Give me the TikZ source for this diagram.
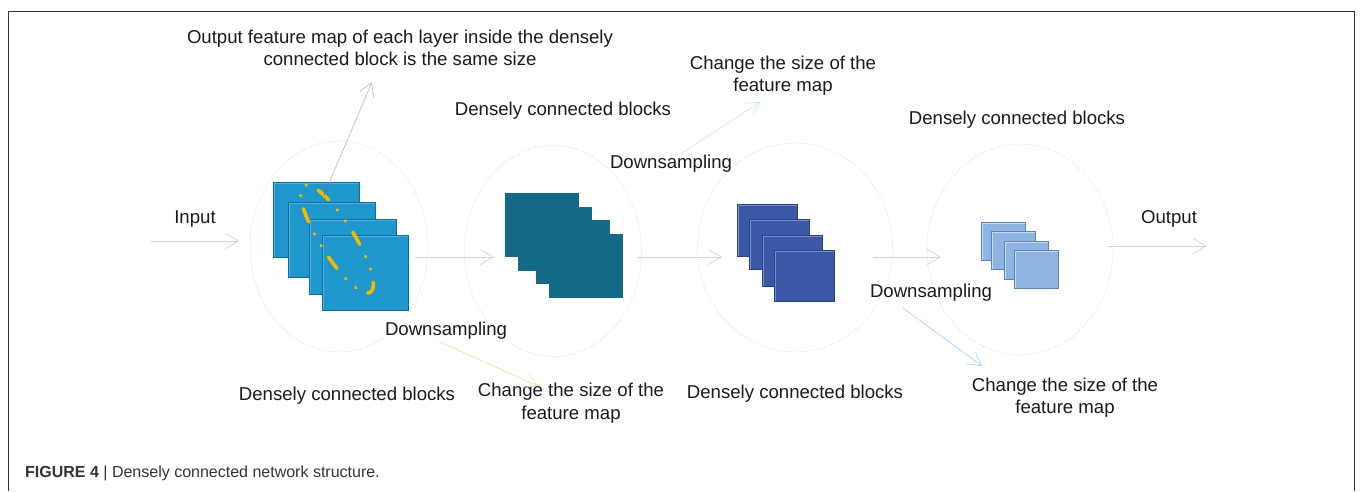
\documentclass[tikz,border=0pt]{standalone}
\usepackage{fontspec}
\setmainfont{Liberation Sans}
\usetikzlibrary{arrows.meta,shapes.geometric}
\definecolor{txt}{HTML}{1A1A1A}
\definecolor{capc}{HTML}{333333}
\definecolor{bluefill}{HTML}{1D97CC}
\definecolor{bluedark}{HTML}{16699A}
\definecolor{bluelight}{HTML}{4DB2E0}
\definecolor{tealfill}{HTML}{146B88}
\definecolor{navyfill}{HTML}{3B58A7}
\definecolor{navydark}{HTML}{2A3F80}
\definecolor{navylight}{HTML}{7A8FD0}
\definecolor{skyfill}{HTML}{8EB4E3}
\definecolor{skydark}{HTML}{5F80B0}
\definecolor{skylight}{HTML}{C9DCF3}
\definecolor{gold}{HTML}{F5B800}
\definecolor{arrgray}{HTML}{D2D2D2}
\definecolor{arrgreen}{HTML}{C9E9D6}
\definecolor{arryellow}{HTML}{F2E2A8}
\definecolor{arrblue}{HTML}{A3D4EC}
\newcommand\stackbox[6]{%
  \node[#6, anchor=north west, minimum width={(#4-#2)*1pt}, minimum height={(#5-#3)*1pt}] (#1) at (#2,#3) {};}
\newcommand\bevelhi[2]{%
  \draw[draw=#2, line width=1.4pt] ([shift={(1.6pt,1.6pt)}]#1.south west) -- ([shift={(1.6pt,-1.6pt)}]#1.north west) -- ([shift={(-1.6pt,-1.6pt)}]#1.north east);}
\begin{document}
\begin{tikzpicture}[x=1pt,y=-1pt,
  lbl/.style={text=txt, font=\fontsize{18.6}{22.5}\selectfont, align=center, inner sep=0pt},
  one/.style={lbl, text height=13.5pt, text depth=4pt},
  flow/.style={draw=arrgray, line width=0.7pt, -{Straight Barb[length=13pt,width=15pt,line width=0.7pt]}},
  halo/.style={draw=black!14, line width=0.6pt, dash pattern=on 1pt off 1.3pt, ellipse, inner sep=0pt},
  boxA/.style={rectangle, inner sep=0pt, fill=bluefill, draw=bluedark, line width=1.4pt},
  boxB/.style={rectangle, inner sep=0pt, fill=tealfill},
  boxC/.style={rectangle, inner sep=0pt, fill=navyfill, draw=navydark, line width=1.4pt},
  boxD/.style={rectangle, inner sep=0pt, fill=skyfill, draw=skydark, line width=1.2pt},
]
\useasboundingbox (0,0) rectangle (1360,491);
% frame
\draw[capc, line width=0.9pt] (8,491) -- (8,11) -- (1354,11) -- (1354,491);

% halos
\node[halo, minimum width=178pt, minimum height=211pt] (e1) at (339,246.5) {};
\node[halo, minimum width=177pt, minimum height=211pt] (e2) at (553,251) {};
\node[halo, minimum width=195pt, minimum height=209pt] (e3) at (795,247.5) {};
\node[halo, minimum width=186pt, minimum height=211pt] (e4) at (1020,249.5) {};

% stack 1
\stackbox{s1a}{273}{182}{359}{257}{boxA}\bevelhi{s1a}{bluelight}
\stackbox{s1b}{288}{202}{375}{277}{boxA}\bevelhi{s1b}{bluelight}
\stackbox{s1c}{309}{219}{396}{294}{boxA}\bevelhi{s1c}{bluelight}
\stackbox{s1d}{322}{235}{408}{310}{boxA}\bevelhi{s1d}{bluelight}
\draw[gold, line width=3.6pt, line cap=round, dash pattern=on 14pt off 13.5pt on 0.01pt off 13.5pt on 0.01pt off 13.5pt, dash phase=3pt]
  (337,239) ellipse [x radius=63pt, y radius=17pt, rotate=-58];

% stack 2
\stackbox{s2a}{505}{193}{579}{257}{boxB}
\stackbox{s2b}{518}{207}{592}{271}{boxB}
\stackbox{s2c}{536}{220}{610}{284}{boxB}
\stackbox{s2d}{549}{234}{623}{298}{boxB}

% stack 3
\stackbox{s3a}{737}{204}{797}{256}{boxC}\bevelhi{s3a}{navylight}
\stackbox{s3b}{749}{219}{809}{269}{boxC}\bevelhi{s3b}{navylight}
\stackbox{s3c}{762}{235}{822}{286}{boxC}\bevelhi{s3c}{navylight}
\stackbox{s3d}{774}{250}{834}{301}{boxC}\bevelhi{s3d}{navylight}

% stack 4
\stackbox{s4a}{981}{222}{1025}{260}{boxD}\bevelhi{s4a}{skylight}
\stackbox{s4b}{991}{231}{1035}{269}{boxD}\bevelhi{s4b}{skylight}
\stackbox{s4c}{1004}{241}{1048}{279}{boxD}\bevelhi{s4c}{skylight}
\stackbox{s4d}{1014}{250}{1058}{288}{boxD}\bevelhi{s4d}{skylight}

% labels
\node[lbl] (tsame) at (400,48) {Output feature map of each layer inside the densely\\connected block is the same size};
\node[one] (tdcb1) at (563,111) {Densely connected blocks};
\node[lbl] (tcs1) at (783,75.5) {Change the size of the\\feature map};
\node[one] (tds1) at (671,164) {Downsampling};
\node[one] (tdcb2) at (1017,120) {Densely connected blocks};
\node[one] (tin) at (195,219) {Input};
\node[one] (tout) at (1169,219) {Output};
\node[one] (tds0) at (446,331) {Downsampling};
\node[one] (tdcb0) at (347,396) {Densely connected blocks};
\node[lbl] (tcs0) at (571,403) {Change the size of the\\feature map};
\node[one] (tdcb3) at (795,394) {Densely connected blocks};
\node[one] (tds2) at (931,293) {Downsampling};
\node[lbl] (tcs2) at (1065,397.5) {Change the size of the\\feature map};
\node[anchor=west, inner sep=0pt, text=capc, font=\fontsize{16}{19}\selectfont] (cap) at (25,473)
  {\textbf{FIGURE 4} | Densely connected network structure.};

% connector end points
\coordinate (inS) at (151,241);  \coordinate (inE) at (239,241);
\coordinate (a1S) at (415,257);  \coordinate (a1E) at (494,257);
\coordinate (a2S) at (637,257);  \coordinate (a2E) at (722,257);
\coordinate (a3S) at (873,257);  \coordinate (a3E) at (941,257);
\coordinate (outS) at (1108,246); \coordinate (outE) at (1207,246);
\coordinate (d1S) at (324,195);  \coordinate (d1E) at (372,82);
\coordinate (d1M) at (329,183);
\coordinate (d2S) at (682,153);  \coordinate (d2E) at (760,102);
\coordinate (d3S) at (440,342);  \coordinate (d3E) at (538,386);
\coordinate (d4S) at (903,308);  \coordinate (d4E) at (982,366);

\draw[flow] (inS) -- (inE);
\draw[flow] (a1S) -- (a1E);
\draw[flow] (a2S) -- (a2E);
\draw[flow] (a3S) -- (a3E);
\draw[flow] (outS) -- (outE);
\draw[flow, draw=black!25] (d1S) -- (d1E);
\draw[black!60, line width=0.8pt] (d1S) -- (d1M);
\draw[flow, draw=arrgreen] (d2S) -- (d2E);
\draw[flow, draw=arryellow] (d3S) -- (d3E);
\draw[flow, draw=arrblue] (d4S) -- (d4E);
\end{tikzpicture}
\end{document}
